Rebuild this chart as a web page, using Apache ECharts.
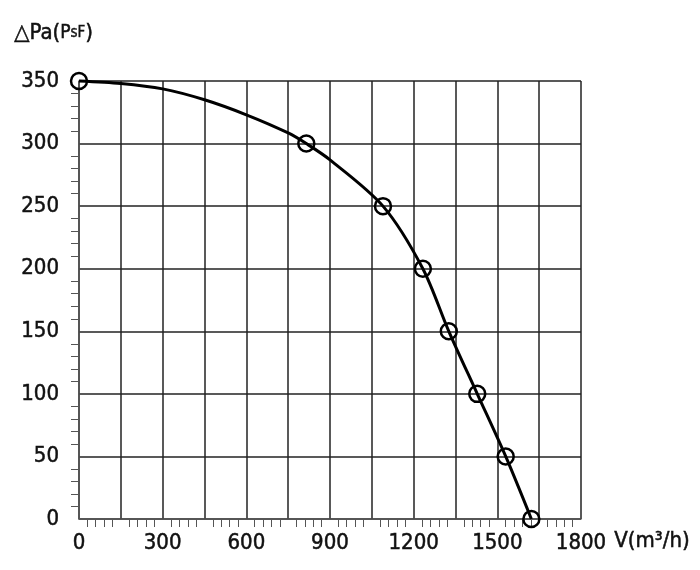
<!DOCTYPE html>
<html>
<head>
<meta charset="utf-8">
<script src="https://cdn.jsdelivr.net/npm/echarts@6/dist/echarts.min.js"></script>
<style>
  html, body { margin: 0; padding: 0; background: #fff; }
  #main { width: 700px; height: 570px; }
</style>
</head>
<body>
<div id="main"></div>
<script>
    // measured points (circles)
    var flow = [0, 815, 1090, 1233, 1326, 1428, 1530, 1622];   // V (m3/h)
    var pressure = [350, 300, 250, 200, 150, 100, 50, 0];      // Pa

    // curve, between the circles
    var curveFlow = [0, 150, 300, 450, 600, 750, 815, 900, 1090, 1233, 1326, 1428, 1530, 1622];
    var curvePressure = [350, 348, 343.7, 335, 323, 308.5, 300, 287, 250, 200, 150, 100, 50, 0];

    var labelFont = '"DejaVu Sans Condensed", sans-serif';

    var myChart = echarts.init(document.getElementById('main'));

    var points = flow.map(function(v, i){
        return [v, pressure[i]];
    });
    var curve = curveFlow.map(function(v, i){
        return [v, curvePressure[i]];
    });

    var textStyle = {
        fontSize: 22,
        fontFamily: labelFont,
        color: '#111',
        textBorderColor: '#111',
        textBorderWidth: 0.5
    };

    var option = {
        backgroundColor: '#fff',
        animation: false,
        grid: {
            left: 79,
            right: 119,
            top: 81,
            bottom: 51
        },
        graphic: [{
            type: 'text',
            left: 14,
            top: 22,
            style: {
                text: '{a|△Pa(}{b|P}{c|sF}{a|)}',
                rich: {
                    a: { fontSize: 22, fontFamily: labelFont, fill: '#111', stroke: '#111', lineWidth: 0.5 },
                    b: { fontSize: 19, fontFamily: labelFont, fill: '#111', stroke: '#111', lineWidth: 0.5 },
                    c: { fontSize: 15, fontFamily: labelFont, fill: '#111', stroke: '#111', lineWidth: 0.4 }
                }
            }
        }, {
            type: 'text',
            left: 614,
            top: 530,
            style: {
                text: 'V(m³/h)',
                fontSize: 22,
                fontFamily: labelFont,
                fill: '#111',
                stroke: '#111',
                lineWidth: 0.5
            }
        }],
        xAxis: {
            type: 'value',
            min: 0,
            max: 1800,
            interval: 150,
            axisLine: { show: true, lineStyle: { color: '#555', width: 1.5 } },
            axisTick: { show: false },
            minorTick: {
                show: true,
                splitNumber: 5,
                length: 8,
                lineStyle: { color: '#555', width: 1 }
            },
            axisLabel: Object.assign({
                margin: 13,
                formatter: function(v){
                    return v % 300 === 0 ? String(v) : '';
                }
            }, textStyle),
            splitLine: { show: true, lineStyle: { color: '#222', width: 1.5 } }
        },
        yAxis: {
            type: 'value',
            min: 0,
            max: 350,
            interval: 50,
            axisLine: { show: true, lineStyle: { color: '#555', width: 1.5 } },
            axisTick: { show: false },
            minorTick: {
                show: true,
                splitNumber: 5,
                length: 8,
                lineStyle: { color: '#555', width: 1 }
            },
            axisLabel: Object.assign({ margin: 20 }, textStyle),
            splitLine: { show: true, lineStyle: { color: '#222', width: 1.5 } }
        },
        series: [{
            type: 'line',
            data: curve,
            smooth: 0.3,
            clip: false,
            showSymbol: false,
            lineStyle: { color: '#000', width: 3 }
        }, {
            type: 'scatter',
            data: points,
            clip: false,
            symbol: 'circle',
            symbolSize: 16,
            itemStyle: {
                color: 'rgba(0,0,0,0)',
                borderColor: '#000',
                borderWidth: 2.5,
                opacity: 1
            }
        }]
    };
    myChart.setOption(option);
</script>
</body>
</html>
